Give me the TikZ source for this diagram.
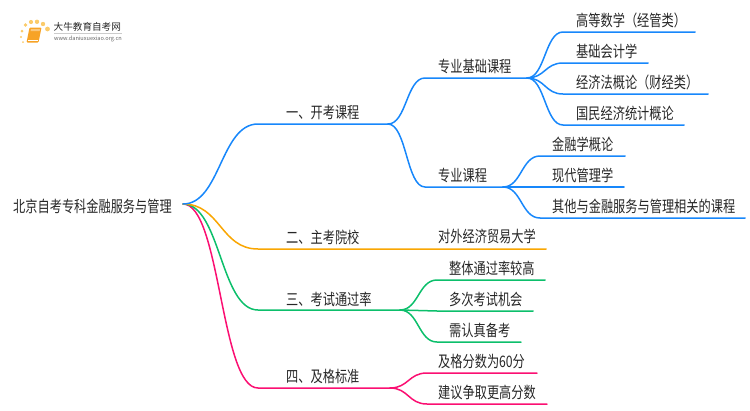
\documentclass[tikz,border=0pt]{standalone}
\usepackage{graphicx}
\usepackage{fontspec}
\setmainfont{Noto Sans CJK SC}
\usetikzlibrary{calc}
\definecolor{cblue}{HTML}{1787FB}
\definecolor{corange}{HTML}{F9A602}
\definecolor{cgreen}{HTML}{0CBF6B}
\definecolor{cpink}{HTML}{FB0F72}
\definecolor{ctext}{HTML}{262626}
\definecolor{logoor}{HTML}{F7A326}
\definecolor{logodot}{HTML}{FBCB6A}
\newcommand{\tall}[1]{\scalebox{1}[1.3]{#1}}
\tikzset{
  lbl/.style={font=\fontsize{12.2}{14}\selectfont,text=ctext,inner sep=0pt,anchor=west},
  conn/.style={line width=1.5pt,line cap=round,line join=round},
  logodisc/.style={fill=logodot,draw=none,circle,inner sep=0pt},
}
\newcommand{\link}[4]{%
  \draw[conn,#1] let \p1=(#2),\p2=(#3) in (\p1)
    .. controls ({\x1+0.5*(\x2-\x1)},\y1) and ({\x1+0.5*(\x2-\x1)},\y2) .. (\p2) -- (#4);}
\begin{document}
\begin{tikzpicture}[x=1pt,y=-1pt]
\useasboundingbox (0,0) rectangle (750,410);
% logo
\foreach \i/\x/\y/\r in {a/23/42/1,b/21/37/1.2,c/22/31/1.5,d/25.5/25/1.9,e/31/22/2.1,f/37/21.8/2.2,g/43/24/2.2,h/47.5/29/2.4}{
  \node[logodisc,minimum size=2*\r] (dot\i) at (\x,\y) {};
}
\fill[logoor,rounded corners=1pt] (29.5,27.5) -- (41.5,27.5) -- (38.5,42.5) -- (26.5,42.5) -- cycle;
\fill[white,opacity=.4] (31,29) -- (40,29) -- (39.7,31) -- (30.6,31) -- cycle;
\draw[white,line width=.5pt] (28,40) -- (38.3,40);
\node[font=\fontsize{9.6}{11}\selectfont,text=ctext,inner sep=0pt,anchor=west] (logotitle) at (53.5,27) {大牛教育自考网};
\draw[black!20,line width=.5pt] (54,33) -- (122,33);
\node[font=\fontsize{5.6}{6}\selectfont,text=black!60,inner sep=0pt,anchor=west] (logourl) at (54,39) {www.daniuxuexiao.org.cn};
% root
\node[lbl] (root) at (13,206) {\tall{北京自考专科金融服务与管理}};
\coordinate (r) at (183,204);
% level 1
\node[lbl] (n1) at (286,113) {\tall{一、开考课程}};
\node[lbl] (n2) at (286,237) {\tall{二、主考院校}};
\node[lbl] (n3) at (286,299) {\tall{三、考试通过率}};
\node[lbl] (n4) at (286,376) {\tall{四、及格标准}};
\coordinate (k1) at (258,124); \coordinate (e1) at (388,124);
\coordinate (k2) at (258,249); \coordinate (e2) at (546,249);
\coordinate (k3) at (258,310); \coordinate (e3) at (400,310);
\coordinate (k4) at (258,388); \coordinate (e4) at (390,388);
% level 2
\node[lbl] (a) at (438,66) {\tall{专业基础课程}};
\node[lbl] (b) at (438,175) {\tall{专业课程}};
\node[lbl] (c) at (438,236) {\tall{对外经济贸易大学}};
\coordinate (ka) at (425,78); \coordinate (ea) at (527,78);
\coordinate (kb) at (425,187); \coordinate (eb) at (503,187);
% leaves of a
\node[lbl] (a1) at (576,20) {\tall{高等数学（经管类）}};
\node[lbl] (a2) at (576,51) {\tall{基础会计学}};
\node[lbl] (a3) at (576,82) {\tall{经济法概论（财经类）}};
\node[lbl] (a4) at (576,113) {\tall{国民经济统计概论}};
\coordinate (ka1) at (563,32);  \coordinate (ea1) at (695,32);
\coordinate (ka2) at (563,63);  \coordinate (ea2) at (648,63);
\coordinate (ka3) at (563,94);  \coordinate (ea3) at (708,94);
\coordinate (ka4) at (563,125); \coordinate (ea4) at (684,125);
% leaves of b
\node[lbl] (b1) at (552,144) {\tall{金融学概论}};
\node[lbl] (b2) at (552,175) {\tall{现代管理学}};
\node[lbl] (b3) at (552,206) {\tall{其他与金融服务与管理相关的课程}};
\coordinate (kb1) at (540,156); \coordinate (eb1) at (625,156);
\coordinate (kb2) at (540,187); \coordinate (eb2) at (624,187);
\coordinate (kb3) at (540,218); \coordinate (eb3) at (745,218);
% leaves of 3
\node[lbl] (c1) at (449,268) {\tall{整体通过率较高}};
\node[lbl] (c2) at (449,299) {\tall{多次考试机会}};
\node[lbl] (c3) at (449,330) {\tall{需认真备考}};
\coordinate (kc1) at (437,280); \coordinate (ec1) at (545,280);
\coordinate (kc2) at (437,311); \coordinate (ec2) at (533,311);
\coordinate (kc3) at (437,342); \coordinate (ec3) at (521,342);
% leaves of 4
\node[lbl] (d1) at (438,361) {\tall{及格分数为60分}};
\node[lbl] (d2) at (438,392) {\tall{建议争取更高分数}};
\coordinate (kd1) at (427,373); \coordinate (ed1) at (537,373);
\coordinate (kd2) at (427,404); \coordinate (ed2) at (547,404);
% connectors
\link{cpink}{r}{k4}{e4}
\link{cgreen}{r}{k3}{e3}
\link{corange}{r}{k2}{e2}
\link{cblue}{r}{k1}{e1}
\link{cblue}{e1}{ka}{ea}
\link{cblue}{e1}{kb}{eb}
\link{cblue}{ea}{ka1}{ea1}
\link{cblue}{ea}{ka2}{ea2}
\link{cblue}{ea}{ka3}{ea3}
\link{cblue}{ea}{ka4}{ea4}
\link{cblue}{eb}{kb1}{eb1}
\link{cblue}{eb}{kb2}{eb2}
\link{cblue}{eb}{kb3}{eb3}
\link{cgreen}{e3}{kc1}{ec1}
\link{cgreen}{e3}{kc2}{ec2}
\link{cgreen}{e3}{kc3}{ec3}
\link{cpink}{e4}{kd1}{ed1}
\link{cpink}{e4}{kd2}{ed2}
\end{tikzpicture}
\end{document}
